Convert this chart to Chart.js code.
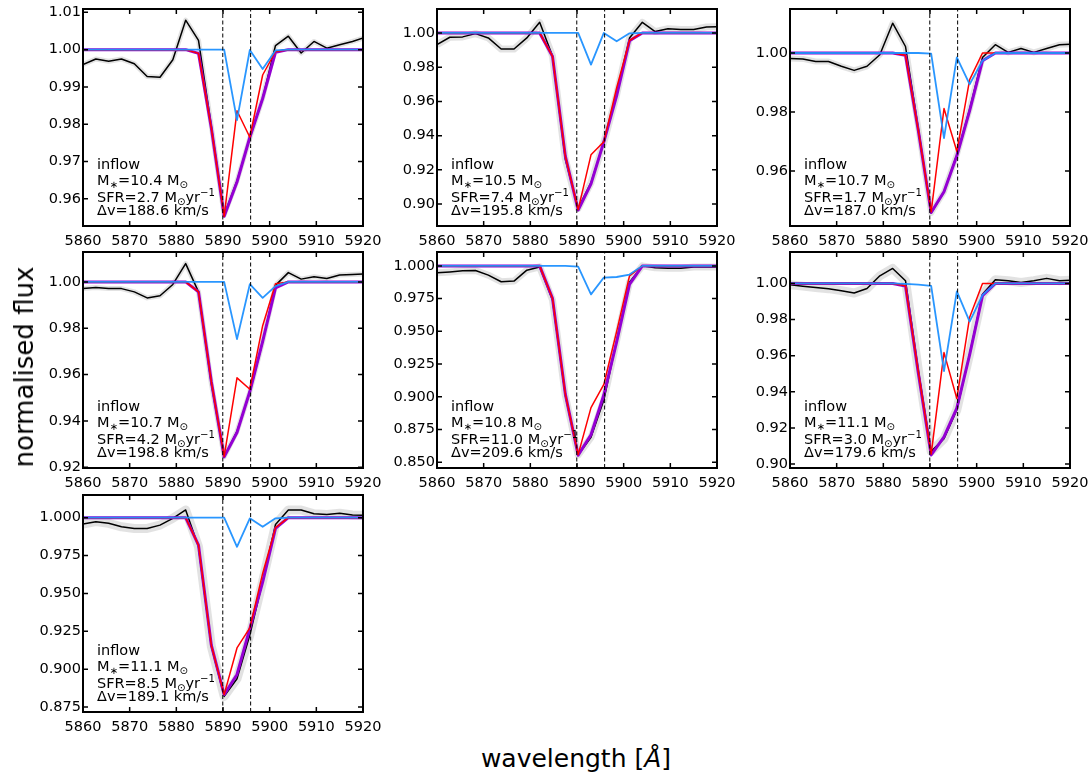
<!DOCTYPE html>
<html>
<head>
<meta charset="utf-8">
<script src="https://cdn.jsdelivr.net/npm/chart.js@4.4.1/dist/chart.umd.min.js"></script>
<style>
html,body{margin:0;padding:0;background:#fff;width:1092px;height:773px;overflow:hidden;font-family:"DejaVu Sans",sans-serif;}
.panel{position:absolute;}
.ann{position:absolute;font-size:14.5px;line-height:14.5px;white-space:nowrap;color:#000;}
.ann sub{font-size:70%;line-height:0;vertical-align:-0.3em;}
.ann sup{font-size:70%;line-height:0;vertical-align:0.55em;}
#ylab{position:absolute;left:24px;top:367px;transform:translate(-50%,-50%) rotate(-90deg);font-size:26px;white-space:nowrap;color:#000;}
#xlab{position:absolute;left:576px;top:758px;transform:translate(-50%,-50%);font-size:25px;white-space:nowrap;color:#000;}
</style>
</head>
<body>
<div id="root"></div>
<div id="ylab">normalised flux</div>
<div id="xlab">wavelength [<i>Å</i>]</div>
<script>
// ---------------- data ----------------
const wavelengths = [5860, 5862.75, 5865.5, 5868.25, 5871, 5873.75, 5876.5, 5879.25, 5882, 5884.75, 5887.5, 5890.25, 5893, 5895.75, 5898.5, 5901.25, 5904, 5906.75, 5909.5, 5912.25, 5915, 5917.75, 5920.5];
const naD = [5889.95, 5895.92];
const xTicks = [5860, 5870, 5880, 5890, 5900, 5910, 5920];

// panel 1
const obs_1    = [0.9960, 0.9975, 0.9969, 0.9975, 0.9962, 0.9928, 0.9926, 0.9973, 1.0079, 1.0025, 0.9795, 0.9556, 0.9648, 0.9763, 0.9870, 1.0011, 1.0036, 0.9991, 1.0022, 1.0004, 1.0013, 1.0022, 1.0033];
const total_1  = [1, 1, 1, 1, 1, 1, 1, 1, 1, 0.9990, 0.9790, 0.9553, 0.9645, 0.9765, 0.9869, 0.9993, 1, 1, 1, 1, 1, 1, 1];
const comp_1   = [1, 1, 1, 1, 1, 1, 1, 1, 1, 0.9990, 0.9790, 0.9553, 0.9836, 0.9765, 0.9932, 0.9995, 1, 1, 1, 1, 1, 1, 1];
const inflow_1 = [1, 1, 1, 1, 1, 1, 1, 1, 1, 1, 1, 1.0000, 0.9811, 0.9999, 0.9948, 0.9998, 1, 1, 1, 1, 1, 1, 1];
// panel 2
const obs_2    = [0.9932, 0.9975, 0.9977, 0.9996, 0.9971, 0.9906, 0.9906, 0.9971, 1.0062, 0.9865, 0.9262, 0.8975, 0.9125, 0.9360, 0.9640, 0.9970, 1.0062, 1.0008, 1.0025, 1.0020, 1.0020, 1.0035, 1.0036];
const total_2  = [1, 1, 1, 1, 1, 1, 1, 1, 1, 0.9863, 0.9280, 0.8965, 0.9118, 0.9364, 0.9634, 0.9954, 1, 1, 1, 1, 1, 1, 1];
const comp_2   = [1, 1, 1, 1, 1, 1, 1, 1, 1, 0.9863, 0.9280, 0.8968, 0.9288, 0.9364, 0.9680, 0.9956, 1, 1, 1, 1, 1, 1, 1];
const inflow_2 = [1, 1, 1, 1, 1, 1, 1, 1, 1, 1, 1, 1, 0.9815, 1.0000, 0.9951, 0.9998, 1, 1, 1, 1, 1, 1, 1];
// panel 3
const obs_3    = [0.9981, 0.9980, 0.9971, 0.9971, 0.9955, 0.9941, 0.9955, 0.9994, 1.0101, 1.0022, 0.9745, 0.9458, 0.9530, 0.9655, 0.9810, 0.9985, 1.0028, 1.0002, 1.0015, 1.0002, 1.0015, 1.0028, 1.0030];
const total_3  = [1, 1, 1, 1, 1, 1, 1, 1, 1, 0.9992, 0.9737, 0.9460, 0.9530, 0.9652, 0.9805, 0.9974, 1, 1, 1, 1, 1, 1, 1];
const comp_3   = [1, 1, 1, 1, 1, 1, 1, 1, 1, 0.9992, 0.9737, 0.9462, 0.9812, 0.9667, 0.9910, 1.0000, 1, 1, 1, 1, 1, 1, 1];
const inflow_3 = [1, 1, 1, 1, 1, 1, 1, 1, 1, 1, 1, 0.9998, 0.9712, 0.9985, 0.9894, 0.9974, 1, 1, 1, 1, 1, 1, 1];
// panel 4
const obs_4    = [0.9971, 0.9976, 0.9971, 0.9971, 0.9957, 0.9931, 0.9940, 0.9989, 1.0079, 0.9957, 0.9560, 0.9245, 0.9355, 0.9525, 0.9742, 0.9985, 1.0040, 1.0012, 1.0022, 1.0015, 1.0030, 1.0032, 1.0035];
const total_4  = [1, 1, 1, 1, 1, 1, 1, 1, 1, 0.9957, 0.9570, 0.9245, 0.9350, 0.9527, 0.9743, 0.9974, 1, 1, 1, 1, 1, 1, 1];
const comp_4   = [1, 1, 1, 1, 1, 1, 1, 1, 1, 0.9957, 0.9570, 0.9247, 0.9586, 0.9537, 0.9811, 0.9992, 1, 1, 1, 1, 1, 1, 1];
const inflow_4 = [1, 1, 1, 1, 1, 1, 1, 1, 1, 1, 1, 1, 0.9753, 0.9990, 0.9931, 0.9982, 1, 1, 1, 1, 1, 1, 1];
// panel 5
const obs_5    = [0.9947, 0.9954, 0.9962, 0.9965, 0.9929, 0.9879, 0.9884, 0.9967, 0.9992, 0.9740, 0.9010, 0.8555, 0.8690, 0.8975, 0.9430, 0.9875, 1.0000, 0.9985, 0.9982, 0.9982, 0.9992, 0.9992, 0.9992];
const total_5  = [1, 1, 1, 1, 1, 1, 1, 1, 1, 0.9752, 0.9020, 0.8554, 0.8710, 0.9013, 0.9419, 0.9859, 1, 1, 1, 1, 1, 1, 1];
const comp_5   = [1, 1, 1, 1, 1, 1, 1, 1, 1, 0.9752, 0.9020, 0.8558, 0.8917, 0.9094, 0.9500, 0.9924, 1, 1, 1, 1, 1, 1, 1];
const inflow_5 = [1, 1, 1, 1, 1, 1, 1, 1, 1, 1, 1, 0.9995, 0.9782, 0.9911, 0.9915, 0.9934, 1, 1, 1, 1, 1, 1, 1];
// panel 6
const obs_6    = [0.9993, 0.9985, 0.9978, 0.9971, 0.9960, 0.9947, 0.9972, 1.0042, 1.0083, 1.0015, 0.9520, 0.9070, 0.9140, 0.9300, 0.9610, 0.9940, 1.0020, 1.0015, 1.0005, 1.0015, 1.0028, 1.0015, 1.0018];
const total_6  = [1, 1, 1, 1, 1, 1, 1, 1, 1, 0.9985, 0.9503, 0.9050, 0.9150, 0.9310, 0.9606, 0.9932, 1, 1, 1, 1, 1, 1, 1];
const comp_6   = [1, 1, 1, 1, 1, 1, 1, 1, 1, 0.9987, 0.9510, 0.9055, 0.9617, 0.9363, 0.9813, 1.0000, 1, 1, 1, 1, 1, 1, 1];
const inflow_6 = [1, 1, 1, 1, 1, 1, 1, 1, 1, 0.9998, 0.9993, 0.9987, 0.9514, 0.9956, 0.9789, 0.9935, 1, 1, 1, 1, 1, 1, 1];
// panel 7
const obs_7    = [0.9958, 0.9974, 0.9963, 0.9940, 0.9929, 0.9929, 0.9951, 0.9996, 1.0051, 0.9808, 0.9150, 0.8820, 0.8937, 0.9225, 0.9580, 0.9956, 1.0051, 1.0051, 1.0026, 1.0022, 1.0029, 1.0018, 1.0015];
const total_7  = [1, 1, 1, 1, 1, 1, 1, 1, 1, 0.9819, 0.9158, 0.8832, 0.8965, 0.9268, 0.9574, 0.9930, 1, 1, 1, 1, 1, 1, 1];
const comp_7   = [1, 1, 1, 1, 1, 1, 1, 1, 1, 0.9819, 0.9158, 0.8832, 0.9140, 0.9272, 0.9632, 0.9934, 1, 1, 1, 1, 1, 1, 1];
const inflow_7 = [1, 1, 1, 1, 1, 1, 1, 1, 1, 1, 1, 1, 0.9808, 0.9996, 0.9940, 0.9996, 1, 1, 1, 1, 1, 1, 1];

// axis ranges and tick labels
const yMin = [0.9527, 0.8872, 0.9414, 0.9197, 0.8456, 0.8978, 0.8717];
const yMax = [1.0109, 1.0140, 1.0149, 1.0129, 1.0106, 1.0174, 1.0150];
const yTicks_1 = [0.96, 0.97, 0.98, 0.99, 1.00, 1.01];
const yTicks_2 = [0.90, 0.92, 0.94, 0.96, 0.98, 1.00];
const yTicks_3 = [0.96, 0.98, 1.00];
const yTicks_4 = [0.92, 0.94, 0.96, 0.98, 1.00];
const yTicks_5 = [0.850, 0.875, 0.900, 0.925, 0.950, 0.975, 1.000];
const yTicks_6 = [0.90, 0.92, 0.94, 0.96, 0.98, 1.00];
const yTicks_7 = [0.875, 0.900, 0.925, 0.950, 0.975, 1.000];
const yDecimals = [2, 2, 2, 2, 3, 2, 3];

// annotations
const logMstar = ['10.4', '10.5', '10.7', '10.7', '10.8', '11.1', '11.1'];
const sfr      = ['2.7', '7.4', '1.7', '4.2', '11.0', '3.0', '8.5'];
const deltaV   = ['188.6', '195.8', '187.0', '198.8', '209.6', '179.6', '189.1'];

// ---------------- layout / style ----------------
const boxes = [ // plot area left, top, width, height
  [83, 9, 280, 217], [437, 9, 280, 217], [790, 9, 280, 217],
  [83, 252, 280, 216], [437, 252, 280, 216], [790, 252, 280, 216],
  [83, 495, 280, 217]
];
const bandWidth = [5, 7, 6, 5, 7, 9, 9];
const PAD_L = 62, PAD_T = 12, PAD_R = 30, PAD_B = 30;
const FONT = {family: '"DejaVu Sans", sans-serif', size: 14.5};

const obs = [obs_1, obs_2, obs_3, obs_4, obs_5, obs_6, obs_7];
const total = [total_1, total_2, total_3, total_4, total_5, total_6, total_7];
const comp = [comp_1, comp_2, comp_3, comp_4, comp_5, comp_6, comp_7];
const inflow = [inflow_1, inflow_2, inflow_3, inflow_4, inflow_5, inflow_6, inflow_7];
const yTicks = [yTicks_1, yTicks_2, yTicks_3, yTicks_4, yTicks_5, yTicks_6, yTicks_7];

const pts = arr => wavelengths.map((w, i) => ({x: w, y: arr[i]}));

const framePlugin = {
  id: 'frame',
  afterDraw(chart) {
    const {ctx, chartArea: a} = chart;
    const xs = chart.scales.x, ys = chart.scales.y;
    const L = 5;
    ctx.save();
    ctx.strokeStyle = '#000';
    ctx.lineWidth = 1.5;
    ctx.beginPath();
    xs.ticks.forEach(t => {
      const p = xs.getPixelForValue(t.value);
      ctx.moveTo(p, a.bottom); ctx.lineTo(p, a.bottom - L);
      ctx.moveTo(p, a.top); ctx.lineTo(p, a.top + L);
    });
    ys.ticks.forEach(t => {
      const p = ys.getPixelForValue(t.value);
      ctx.moveTo(a.left, p); ctx.lineTo(a.left + L, p);
      ctx.moveTo(a.right, p); ctx.lineTo(a.right - L, p);
    });
    ctx.stroke();
    ctx.lineWidth = 2;
    ctx.strokeRect(a.left, a.top, a.right - a.left, a.bottom - a.top);
    ctx.restore();
  }
};

const root = document.getElementById('root');
boxes.forEach((b, k) => {
  const [pl, pt, pw, ph] = b;
  const div = document.createElement('div');
  div.className = 'panel';
  const W = pw + PAD_L + PAD_R, H = ph + PAD_T + PAD_B;
  div.style.left = (pl - PAD_L) + 'px';
  div.style.top = (pt - PAD_T) + 'px';
  div.style.width = W + 'px';
  div.style.height = H + 'px';
  const cv = document.createElement('canvas');
  cv.width = W; cv.height = H;
  cv.style.width = W + 'px'; cv.style.height = H + 'px';
  div.appendChild(cv);
  root.appendChild(div);

  const vline = (xv) => ({
    data: [{x: xv, y: yMin[k]}, {x: xv, y: yMax[k]}],
    borderColor: '#000', borderWidth: 1, borderDash: [4, 2.5], pointRadius: 0, clip: 0
  });
  const line = (arr, color, width) => ({
    data: pts(arr), borderColor: color, borderWidth: width, pointRadius: 0, tension: 0, clip: 0,
    borderJoinStyle: 'round', borderCapStyle: 'butt'
  });

  new Chart(cv, {
    type: 'line',
    data: {
      datasets: [ // first = drawn on top
        vline(naD[0]), vline(naD[1]),
        line(inflow[k], 'rgba(30,144,255,0.95)', 1.8),
        line(comp[k], '#ff0000', 1.5),
        line(total[k], '#9400d3', 3),
        line(obs[k], '#000000', 1.5),
        line(obs[k], 'rgba(150,150,150,0.28)', bandWidth[k])
      ]
    },
    options: {
      responsive: false, animation: false, devicePixelRatio: 1,
      layout: {padding: {left: 0, top: PAD_T, right: PAD_R, bottom: 0}},
      plugins: {legend: {display: false}, tooltip: {enabled: false}},
      scales: {
        x: {
          type: 'linear', position: 'bottom', min: 5860, max: 5920,
          grid: {display: false, drawTicks: false}, border: {display: false},
          afterFit: s => { s.height = PAD_B; },
          afterBuildTicks: s => { s.ticks = xTicks.map(v => ({value: v})); },
          ticks: {font: FONT, color: '#000', padding: 7, maxRotation: 0, autoSkip: false,
                  callback: v => String(v)}
        },
        y: {
          type: 'linear', position: 'left', min: yMin[k], max: yMax[k],
          grid: {display: false, drawTicks: false}, border: {display: false},
          afterFit: s => { s.width = PAD_L; },
          afterBuildTicks: s => { s.ticks = yTicks[k].map(v => ({value: v})); },
          ticks: {font: FONT, color: '#000', padding: 2, autoSkip: false,
                  callback: v => Number(v).toFixed(yDecimals[k])}
        }
      }
    },
    plugins: [framePlugin]
  });

  // annotation text
  const lines = [
    'inflow',
    'M<sub>∗</sub>=' + logMstar[k] + ' M<sub>⊙</sub>',
    'SFR=' + sfr[k] + ' M<sub>⊙</sub>yr<sup>−1</sup>',
    'Δv=' + deltaV[k] + ' km/s'
  ];
  const offs = [57, 41, 24, 11];
  lines.forEach((t, j) => {
    const d = document.createElement('div');
    d.className = 'ann';
    d.innerHTML = t;
    d.style.left = (pl + 14) + 'px';
    d.style.top = (pt + ph - offs[j] - 12.3) + 'px';
    root.appendChild(d);
  });
});
</script>
</body>
</html>
